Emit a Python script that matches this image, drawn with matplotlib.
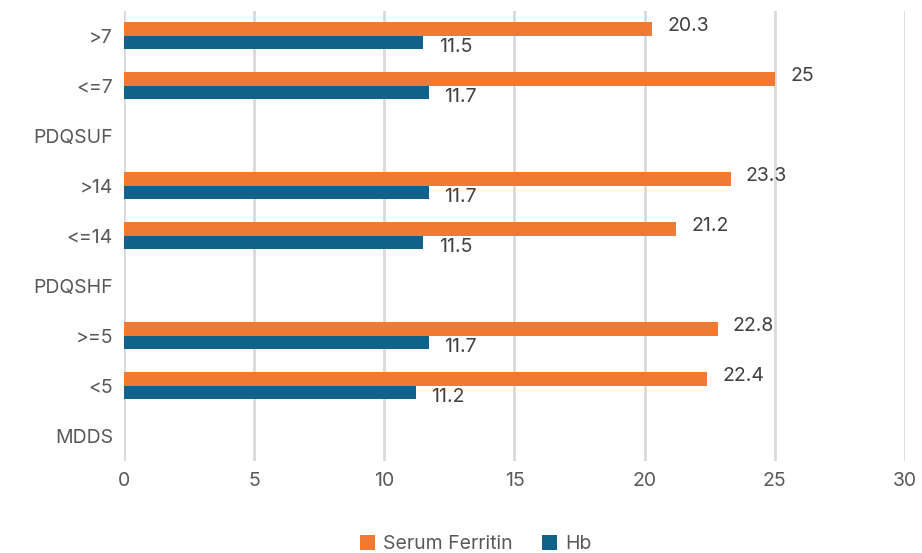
import numpy as np
import matplotlib.pyplot as plt

# data (bottom to top)
categories = ["MDDS", "<5", ">=5", "PDQSHF", "<=14", ">14", "PDQSUF", "<=7", ">7"]
serum_ferritin = [None, 22.4, 22.8, None, 21.2, 23.3, None, 25, 20.3]
hb = [None, 11.2, 11.7, None, 11.5, 11.7, None, 11.7, 11.5]

orange = "#F07A32"
blue = "#10628A"
plt.rcParams["font.family"] = ["Inter", "DejaVu Sans"]

fig = plt.figure(figsize=(9.22, 5.53), dpi=100)
ax = fig.add_axes([0.1345, 0.1664, 0.847, 0.8138])

y = np.arange(len(categories))
h = 0.27
sf_vals = [np.nan if v is None else v for v in serum_ferritin]
hb_vals = [np.nan if v is None else v for v in hb]
ax.barh(y + h / 2, sf_vals, height=h, color=orange, label="Serum Ferritin", zorder=3)
ax.barh(y - h / 2, hb_vals, height=h, color=blue, label="Hb", zorder=3)

for i in range(len(categories)):
    if serum_ferritin[i] is not None:
        ax.annotate(f"{serum_ferritin[i]:g}", (serum_ferritin[i], y[i] + h / 2),
                    xytext=(11, 2), textcoords="offset points", va="center",
                    fontsize=14, color="#404040")
    if hb[i] is not None:
        ax.annotate(f"{hb[i]:g}", (hb[i], y[i] - h / 2),
                    xytext=(11, -3), textcoords="offset points", va="center",
                    fontsize=14, color="#404040")

ax.set_xlim(0, 30)
ax.set_ylim(-0.5, len(categories) - 0.5)
ax.set_xticks(np.arange(0, 31, 5))
ax.set_yticks(y)
ax.set_yticklabels(categories)
ax.tick_params(axis="both", length=0, labelsize=14, labelcolor="#595959")
ax.tick_params(axis="y", pad=8)
ax.tick_params(axis="x", pad=8)
ax.grid(axis="x", color="#D9D9D9", linewidth=2, zorder=0)
for s in ax.spines.values():
    s.set_visible(False)

ax.legend(loc="upper center", bbox_to_anchor=(0.45, -0.125), ncol=2, frameon=False,
          fontsize=14, labelcolor="#595959", handlelength=0.8, handleheight=0.8,
          handletextpad=0.4, columnspacing=1.5)

fig.savefig("out.png", dpi=100)
